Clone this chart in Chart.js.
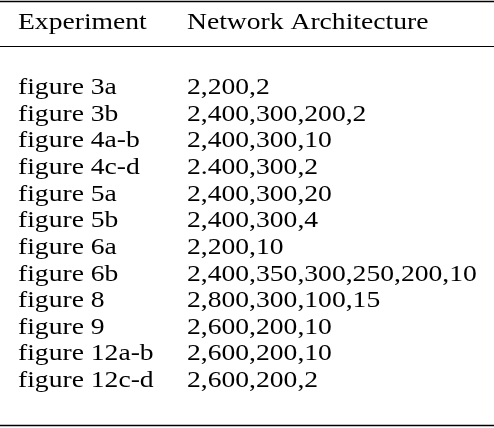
<!DOCTYPE html>
<html><head><meta charset="utf-8">
<script src="https://cdn.jsdelivr.net/npm/chart.js@4/dist/chart.umd.min.js"></script>
<style>html,body{margin:0;padding:0;background:#fff}#wrap{width:494px;height:428px}</style>
</head><body><div id="wrap"><canvas id="c"></canvas></div>
<script>
const headers = ["Experiment", "Network Architecture"];
const experiments = ["figure 3a","figure 3b","figure 4a-b","figure 4c-d","figure 5a","figure 5b","figure 6a","figure 6b","figure 8","figure 9","figure 12a-b","figure 12c-d"];
const architectures = ["2,200,2","2,400,300,200,2","2,400,300,10","2.400,300,2","2,400,300,20","2,400,300,4","2,200,10","2,400,350,300,250,200,10","2,800,300,100,15","2,600,200,10","2,600,200,10","2,600,200,2"];

const tablePlugin = {
  id: 'table',
  afterDraw(chart) {
    const ctx = chart.ctx;
    const y = chart.scales.y;
    const sx = 1.2;
    const put = (t, x, py) => {
      ctx.save(); ctx.translate(x, py); ctx.scale(sx, 1); ctx.fillText(t, 0, 0); ctx.restore();
    };
    ctx.save();
    ctx.fillStyle = '#000';
    ctx.strokeStyle = '#000';
    ctx.font = '23px "Liberation Serif", "DejaVu Serif", serif';
    ctx.textBaseline = 'middle';
    const x1 = 18, x2 = 187;
    put(headers[0], x1, 23);
    put(headers[1], x2, 23);
    experiments.forEach((e, i) => {
      const py = y.getPixelForValue(i);
      put(e, x1, py);
      put(architectures[i], x2, py);
    });
    ctx.lineWidth = 1.5;
    ctx.beginPath(); ctx.moveTo(0, 1.5); ctx.lineTo(494, 1.5); ctx.stroke();
    ctx.lineWidth = 1;
    ctx.beginPath(); ctx.moveTo(0, 46.5); ctx.lineTo(494, 46.5); ctx.stroke();
    ctx.lineWidth = 1.5;
    ctx.beginPath(); ctx.moveTo(0, 425.5); ctx.lineTo(494, 425.5); ctx.stroke();
    ctx.restore();
  }
};

new Chart(document.getElementById('c'), {
  type: 'bar',
  data: { labels: experiments, datasets: [{ data: experiments.map(() => 0) }] },
  options: {
    responsive: true, maintainAspectRatio: false, animation: false,
    indexAxis: 'y',
    layout: { padding: 0 },
    plugins: { legend: { display: false }, tooltip: { enabled: false } },
    scales: {
      x: { display: false },
      y: { type: 'linear', display: false, min: -2.30, max: 11.76, reverse: true }
    }
  },
  plugins: [tablePlugin]
});
</script></body></html>
